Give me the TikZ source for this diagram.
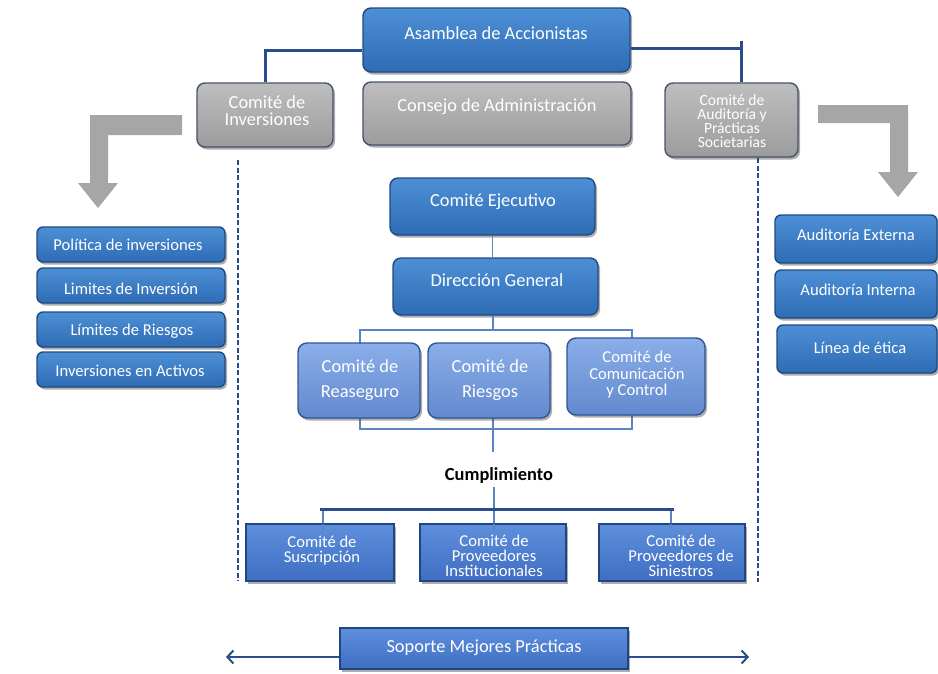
\documentclass[tikz,border=0pt]{standalone}
\usepackage{fontspec}
\setmainfont{Carlito}
\usetikzlibrary{shadows,arrows.meta}
\definecolor{bTop}{HTML}{4D8FD6}
\definecolor{bBot}{HTML}{2E6CB4}
\definecolor{bBrd}{HTML}{1F4A80}
\definecolor{gTop}{HTML}{BEBEBE}
\definecolor{gBot}{HTML}{9C9C9C}
\definecolor{gBrd}{HTML}{45536A}
\definecolor{lTop}{HTML}{8AAEE8}
\definecolor{lBot}{HTML}{6389CF}
\definecolor{lBrd}{HTML}{2F5597}
\definecolor{rTop}{HTML}{5E8FDC}
\definecolor{rBot}{HTML}{3F6EC2}
\definecolor{rBrd}{HTML}{23457F}
\definecolor{navy}{HTML}{2B4C8C}
\definecolor{thinc}{HTML}{5A84C2}
\definecolor{arrg}{HTML}{A6A6A6}
\tikzset{
  shd/.style={drop shadow={shadow xshift=2pt,shadow yshift=-2.5pt,opacity=0.45,fill=black!70}},
  bluebox/.style={rounded corners=8pt,draw=bBrd,line width=1.4pt,top color=bTop,bottom color=bBot,shd},
  listbox/.style={rounded corners=6pt,draw=bBrd,line width=1.4pt,top color=bTop,bottom color=bBot,shd},
  graybox/.style={rounded corners=8pt,draw=gBrd,line width=1.4pt,top color=gTop,bottom color=gBot,shd},
  lightbox/.style={rounded corners=9pt,draw=lBrd,line width=1.4pt,top color=lTop,bottom color=lBot,shd},
  rectbox/.style={draw=rBrd,line width=1.2pt,top color=rTop,bottom color=rBot,shd},
  txt/.style={text=white,align=center,inner sep=0pt},
  big/.style={font=\fontsize{18.4}{22}\selectfont},
  small/.style={font=\fontsize{16.6}{15}\selectfont},
  thickconn/.style={draw=navy,line width=3pt},
  thinconn/.style={draw=thinc,line width=1.3pt},
  dashline/.style={draw=navy,line width=2.6pt,dash pattern=on 5pt off 2.5pt},
}
\begin{document}
\begin{tikzpicture}[x=1pt,y=-1pt]
\useasboundingbox (0,0) rectangle (938,673);
% gray arrows
\fill[arrg] (182,115) -- (90,115) -- (90,183) -- (78,183) -- (98,208) -- (118,183) -- (108,183) -- (108,135) -- (182,135) -- cycle;
\fill[arrg] (818,105) -- (908,105) -- (908,172) -- (918,172) -- (898,197) -- (878,172) -- (890,172) -- (890,123) -- (818,123) -- cycle;
% dashed lines
\draw[dashline] (238,160) -- (238,581);
\draw[dashline] (758,158) -- (758,582);
% boxes
\node[bluebox,minimum width=267pt,minimum height=64pt] (asam) at (496.5,40) {};
\node[txt,big] (asamT) at (496,33) {Asamblea de Accionistas};
\node[graybox,minimum width=268pt,minimum height=63pt] (cons) at (497,113.5) {};
\node[txt,big] (consT) at (497,107) {Consejo de Administración};
\node[graybox,minimum width=136pt,minimum height=64pt] (inv) at (265,115) {};
\node[txt,font=\fontsize{18.4}{17}\selectfont] (invT) at (267,111) {Comité de\\Inversiones};
\node[graybox,minimum width=133pt,minimum height=74pt] (aud) at (731.5,120) {};
\node[txt,font=\fontsize{15.6}{14}\selectfont] (audT) at (732,121) {Comité de\\Auditoría y\\Prácticas\\Societarias};
% top connectors
\draw[thickconn] ([yshift=-10pt]asam.west) -| (inv.north);
\draw[thickconn] ([yshift=-8pt]asam.east) -| ([xshift=9.5pt]aud.north);
\draw[thickconn] ([xshift=9.5pt]aud.north) -- ++(0,-41);
% left list
\node[listbox,minimum width=188pt,minimum height=35pt] (l1) at (131,244.5) {};
\node[txt,small] (l1T) at (128,245) {Política de inversiones};
\node[listbox,minimum width=188pt,minimum height=35pt] (l2) at (131,285.5) {};
\node[txt,small] (l2T) at (131,289) {Limites de Inversión};
\node[listbox,minimum width=188pt,minimum height=35pt] (l3) at (131,329.5) {};
\node[txt,small] (l3T) at (132,331) {Límites de Riesgos};
\node[listbox,minimum width=188pt,minimum height=35pt] (l4) at (131,369.5) {};
\node[txt,small] (l4T) at (130,370.5) {Inversiones en Activos};
% right list
\node[listbox,minimum width=162pt,minimum height=48pt] (r1) at (856,239) {};
\node[txt,small] (r1T) at (856,235) {Auditoría Externa};
\node[listbox,minimum width=162pt,minimum height=48pt] (r2) at (856,294) {};
\node[txt,small] (r2T) at (858,290) {Auditoría Interna};
\node[listbox,minimum width=160pt,minimum height=48pt] (r3) at (857,349) {};
\node[txt,small] (r3T) at (860,348) {Línea de ética};
% center
\node[bluebox,minimum width=205pt,minimum height=57pt] (ejec) at (492.5,206.5) {};
\node[txt,big] (ejecT) at (493,202) {Comité Ejecutivo};
\node[bluebox,minimum width=205pt,minimum height=57pt] (dir) at (495.5,286.5) {};
\node[txt,big] (dirT) at (497,280) {Dirección General};
\coordinate (brTL) at (360,330);
\coordinate (brTR) at (632,330);
\coordinate (brBL) at (360,429);
\coordinate (brBR) at (632,429);
\coordinate (cuTop) at (493,452);
\draw[thinconn] (ejec.south) -- (ejec.south |- dir.north);
\draw[thinconn] ([xshift=-2.5pt]dir.south) -- ([xshift=-2.5pt]dir.south |- brTL);
\draw[thinconn] (brTL |- 0,345) -- (brTL) -- (brTR) -- (brTR |- 0,340);
\draw[thinconn] (brBL |- 0,416) -- (brBL) -- (brBR) -- (brBR |- 0,413);
\draw[thinconn] (brBL -| cuTop) ++(0,-12) -- (cuTop);
\node[lightbox,minimum width=122pt,minimum height=75pt] (reas) at (359,380.5) {};
\node[txt,font=\fontsize{18.4}{25}\selectfont] (reasT) at (360,380) {Comité de\\Reaseguro};
\node[lightbox,minimum width=122pt,minimum height=75pt] (ries) at (489,380.5) {};
\node[txt,font=\fontsize{18.4}{25}\selectfont] (riesT) at (490,380) {Comité de\\Riesgos};
\node[lightbox,minimum width=138pt,minimum height=77pt] (com) at (636,376.5) {};
\node[txt,font=\fontsize{16.6}{16.5}\selectfont] (comT) at (637,375) {Comité de\\Comunicación\\y Control};
\node[inner sep=0pt,font=\bfseries\fontsize{18.4}{22}\selectfont] (cumpl) at (499,475) {Cumplimiento};
% bottom level connectors
\coordinate (barL) at (320,509);
\coordinate (barR) at (674,509);
\draw[thinconn] (cumpl.south) ++(-5,4) -- (494,526);
\draw[thinconn] (323,509) -- (323,528);
\draw[thinconn] (671,509) -- (671,528);
\draw[thickconn] (barL) -- (barR);
\node[rectbox,minimum width=148pt,minimum height=57pt] (sus) at (320,552.5) {};
\node[txt,small] (susT) at (322,550.5) {Comité de\\Suscripción};
\node[rectbox,minimum width=146pt,minimum height=57pt] (provi) at (493,552.5) {};
\node[txt,small] (proviT) at (494,556) {Comité de\\Proveedores\\Institucionales};
\node[rectbox,minimum width=146pt,minimum height=57pt] (provs) at (672,552.5) {};
\node[txt,small] (provsT) at (681,556) {Comité de\\Proveedores de\\Siniestros};
\draw[thinconn] (323,524) -- (323,529);
\draw[thinconn] (494,524) -- (494,529);
\draw[thinconn] (671,524) -- (671,529);
% bottom support
\coordinate (arL) at (226,657);
\coordinate (arR) at (749,657);
\draw[navy,line width=2pt,arrows={Straight Barb[length=6pt,width=13pt]-}] (arL) -- (340,657);
\draw[navy,line width=2pt,arrows={-Straight Barb[length=6pt,width=13pt]}] (628,657) -- (arR);
\node[rectbox,minimum width=288pt,minimum height=41pt] (sop) at (484,648.5) {};
\node[txt,big] (sopT) at (484,648) {Soporte Mejores Prácticas};
\end{tikzpicture}
\end{document}
